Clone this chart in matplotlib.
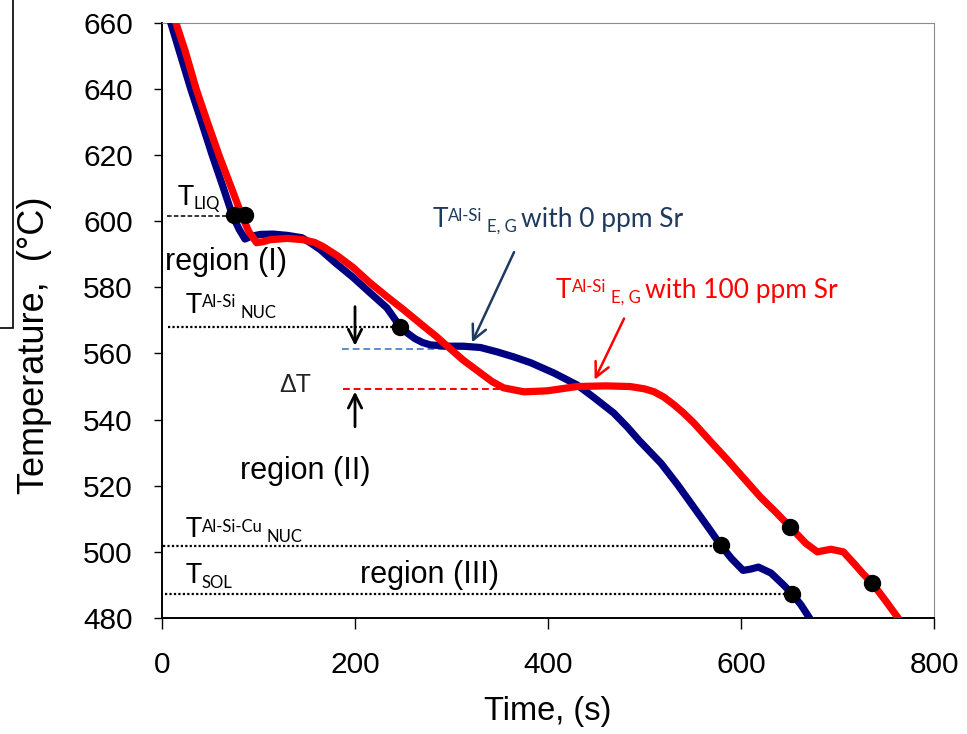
import matplotlib
matplotlib.use("Agg")
import matplotlib.pyplot as plt
from matplotlib.patches import Rectangle

# cooling curves (time s, temperature C)
t_0sr = [6, 18, 29.8, 41, 52, 63, 73, 80, 86, 92, 102, 115, 130, 145, 153.5, 164,
         180, 198, 215, 233, 247, 255, 262, 270, 278, 295, 312, 330, 347, 364, 382,
         406, 430, 447, 468, 482, 494, 517, 534, 551, 565, 579, 590, 602, 610,
         618, 631, 644, 653, 662, 672]
T_0sr = [663, 651.4, 640, 630, 620, 610.6, 601.8, 597.5, 594.6, 595.4, 596, 596.1,
         595.7, 595, 593.5, 591.4, 587.3, 583, 578.5, 573.8, 568, 566, 564.5, 563.3,
         562.6, 562.2, 562.2, 561.8, 560.5, 559, 557.2, 554.1, 550.5, 546.8, 542,
         537.8, 533.8, 526.8, 520.4, 513.5, 507.8, 502, 498, 494.4, 494.8, 495.4,
         493.6, 490, 487.3, 484, 479.5]

t_100sr = [11, 24, 35.4, 47, 59, 71, 83, 90, 98, 105, 112, 130, 146, 158, 167, 182,
           198, 215, 233, 250, 270, 284, 296, 312, 330, 342, 354, 375, 399, 430,
           460, 485, 500, 510, 520, 530, 540, 551, 568, 586, 603, 620, 636, 651,
           667, 679, 693, 706, 717, 726, 736, 749, 764]
T_100sr = [663, 651.5, 640, 630, 620, 610.8, 601.5, 596.8, 593.5, 593.8, 594.4,
           594.8, 594.4, 593.6, 592.3, 589.5, 586, 581.5, 577.2, 573.3, 568.5,
           565.2, 562.1, 558, 554.1, 551.5, 549.6, 548.4, 548.7, 550, 550.2, 550,
           549.3, 548.4, 546.8, 544.6, 542.1, 539, 533.5, 527.8, 522.2, 516.6, 512,
           507.5, 502.6, 500, 500.8, 500, 496.5, 493.5, 490.5, 485.5, 479.5]

dot_t = [75, 86, 247, 579, 653, 651, 736]
dot_T = [602, 602, 568, 502, 487.3, 507.5, 490.5]

# characteristic temperatures and how far their guide lines run
T_liq, liq_span = 601.5, (5, 72)
T_nuc, nuc_span = 568, (6, 245)
T_cu, cu_span = 501.7, (1, 579)
T_sol, sol_span = 487.3, (3, 653)
T_eg0, eg0_span = 561.5, (187, 330)
T_eg100, eg100_span = 549.3, (188, 351)

SANS = "Liberation Sans"
CAL = "Lato"
NAVY = "#000080"
SLATE = "#1F3A5F"

fig = plt.figure(figsize=(9.67, 7.34), dpi=100)
ax = fig.add_axes([0.1675, 0.158, 0.7985, 0.811])

ax.plot(t_0sr, T_0sr, color=NAVY, lw=5.2, solid_capstyle="butt", solid_joinstyle="round", zorder=3)
ax.plot(t_100sr, T_100sr, color="red", lw=5.2, solid_capstyle="butt", solid_joinstyle="round", zorder=4)
ax.plot(dot_t, dot_T, "o", color="black", ms=11.5, zorder=5)

ax.plot(liq_span, [T_liq] * 2, color="black", ls=(0, (3, 1.5)), lw=1.1, zorder=2)
for T, span in [(T_nuc, nuc_span), (T_cu, cu_span), (T_sol, sol_span)]:
    ax.plot(span, [T] * 2, color="black", ls=(0, (1, 1)), lw=1.6, zorder=2)
ax.plot(eg0_span, [T_eg0] * 2, color="#5B8CCB", ls=(0, (3.5, 2)), lw=1.4, zorder=2)
ax.plot(eg100_span, [T_eg100] * 2, color="red", ls=(0, (3.5, 2)), lw=1.4, zorder=2)

# delta T arrows
arr = dict(arrowstyle="->", color="black", lw=2, mutation_scale=24)
ax.annotate("", xy=(200, 561.5), xytext=(200, 575), arrowprops=arr)
ax.annotate("", xy=(200, 549.3), xytext=(200, 537), arrowprops=arr)
ax.annotate("", xy=(320, 562.6), xytext=(366, 591.4),
            arrowprops=dict(arrowstyle="->", color=SLATE, lw=1.8, mutation_scale=26))
ax.annotate("", xy=(447, 551.3), xytext=(480, 571.3),
            arrowprops=dict(arrowstyle="->", color="red", lw=1.8, mutation_scale=26))


def t_label(x, y, sup=None, sub=None, color="black", size=18, small=10.5, tail=None):
    main = ax.text(x, y, "T", fontsize=size, color=color, family=CAL, va="baseline", zorder=6)
    last = main
    if sup:
        last = ax.annotate(sup, xy=(1, 1), xycoords=main, xytext=(0.5, -1),
                           textcoords="offset points", fontsize=small, color=color,
                           family=CAL, va="top", ha="left")
    if sub:
        gap = 3 if sup else 0
        last = ax.annotate(sub, xy=(1, 0), xycoords=(last, main), xytext=(gap, -2),
                           textcoords="offset points", fontsize=small, color=color,
                           family=CAL, va="bottom", ha="left")
    if tail:
        ax.annotate(tail, xy=(1, 0), xycoords=(last, main), xytext=(3, 0),
                    textcoords="offset points", fontsize=size, color=color,
                    family=CAL, va="bottom", ha="left")


t_label(16.6, 605, sub="LIQ", size=19.5, small=12)
t_label(24, 572.3, sup="Al-Si", sub="NUC", size=19.5, small=12)
t_label(24, 504.4, sup="Al-Si-Cu", sub="NUC", size=19.5, small=12)
t_label(24, 490.5, sub="SOL", size=19.5, small=12)
t_label(280, 598.3, sup="Al-Si", sub="E, G", color=SLATE, size=19, small=12,
        tail="with 0 ppm Sr")
t_label(408, 576.8, sup="Al-Si", sub="E, G", color="red", size=19, small=12,
        tail="with 100 ppm Sr")

ax.text(3, 585.3, "region (I)", fontsize=22, family=SANS, va="baseline")
ax.text(81, 522, "region (II)", fontsize=22, family=SANS, va="baseline")
ax.text(205, 490.5, "region (III)", fontsize=22, family=SANS, va="baseline")
ax.text(122, 548.4, "\u0394T", fontsize=18, family=SANS, va="baseline", color="#222222")

ax.set_xlim(0, 800)
ax.set_ylim(480, 660)
ax.set_xticks([0, 200, 400, 600, 800])
ax.set_yticks(range(480, 661, 20))
ax.tick_params(axis="y", direction="out", length=6, width=1, pad=15, labelsize=21.5)
ax.tick_params(axis="x", direction="out", length=8, width=1, pad=16, labelsize=21.5)
for lab in ax.get_xticklabels() + ax.get_yticklabels():
    lab.set_family(SANS)

ax.spines["left"].set_linewidth(1.4)
ax.spines["bottom"].set_linewidth(1.4)
ax.spines["top"].set_color("#8c8c8c")
ax.spines["right"].set_color("#8c8c8c")

ax.set_xlabel("Time, (s)", fontsize=23.5, family=SANS, labelpad=12)
ax.set_ylabel("Temperature,  (\u00b0C)", fontsize=26, family=SANS)
ax.yaxis.set_label_coords(-0.1425, 0.459)

# clipped box at the left edge of the original slide
fig.patches.append(Rectangle((-0.02, 1 - 328 / 734), 0.02 + 13 / 967, 328 / 734 + 0.05,
                             transform=fig.transFigure, fill=False,
                             edgecolor="black", lw=1.2))

fig.savefig("out.png", dpi=100)
